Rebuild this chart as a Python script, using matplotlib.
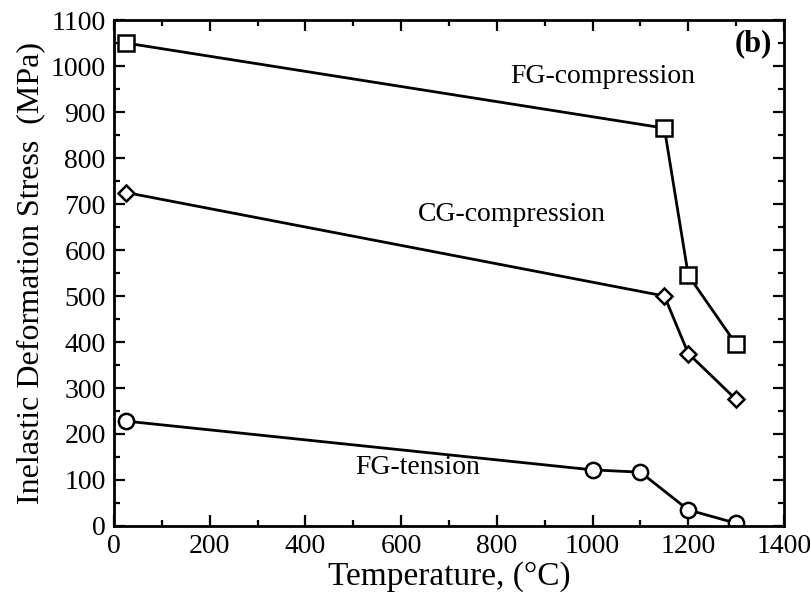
import matplotlib.pyplot as plt
from matplotlib.ticker import MultipleLocator

plt.rcParams['font.family'] = ['Liberation Serif', 'DejaVu Serif']

# data
tempFGc = [25, 1150, 1200, 1300]
stressFGc = [1050, 865, 545, 395]

tempCGc = [25, 1150, 1200, 1300]
stressCGc = [725, 500, 375, 275]

tempFGt = [25, 1000, 1100, 1200, 1300]
stressFGt = [228, 122, 117, 35, 6]

fig = plt.figure(figsize=(8.11, 6.01), dpi=100)
ax = fig.add_axes([0.1406, 0.1248, 0.8261, 0.8419])

ax.plot(tempFGc, stressFGc, color='black', lw=2, marker='s', markersize=12,
        markerfacecolor='white', markeredgecolor='black', markeredgewidth=1.8)
ax.plot(tempCGc, stressCGc, color='black', lw=2, marker='D', markersize=8,
        markerfacecolor='white', markeredgecolor='black', markeredgewidth=1.8)
ax.plot(tempFGt, stressFGt, color='black', lw=2, marker='o', markersize=11,
        markerfacecolor='white', markeredgecolor='black', markeredgewidth=1.8)

ax.text(828, 978, 'FG-compression', fontsize=20, va='center')
ax.text(635, 678, 'CG-compression', fontsize=20, va='center')
ax.text(505, 128, 'FG-tension', fontsize=20, va='center')
ax.text(1375, 1048, '(b)', fontsize=22, fontweight='bold', ha='right', va='center')

ax.set_xlim(0, 1400)
ax.set_ylim(0, 1100)
ax.xaxis.set_major_locator(MultipleLocator(200))
ax.xaxis.set_minor_locator(MultipleLocator(100))
ax.yaxis.set_major_locator(MultipleLocator(100))
ax.yaxis.set_minor_locator(MultipleLocator(50))
ax.tick_params(which='both', direction='in', top=True, right=True, width=1.6,
               labelsize=20, pad=6)
ax.tick_params(which='major', length=8)
ax.tick_params(which='minor', length=4)
for s in ax.spines.values():
    s.set_linewidth(2)

ax.set_xlabel('Temperature, (°C)', fontsize=24, labelpad=1)
ax.set_ylabel('Inelastic Deformation Stress  (MPa)', fontsize=23, labelpad=4)

fig.savefig('out.png', dpi=100)
